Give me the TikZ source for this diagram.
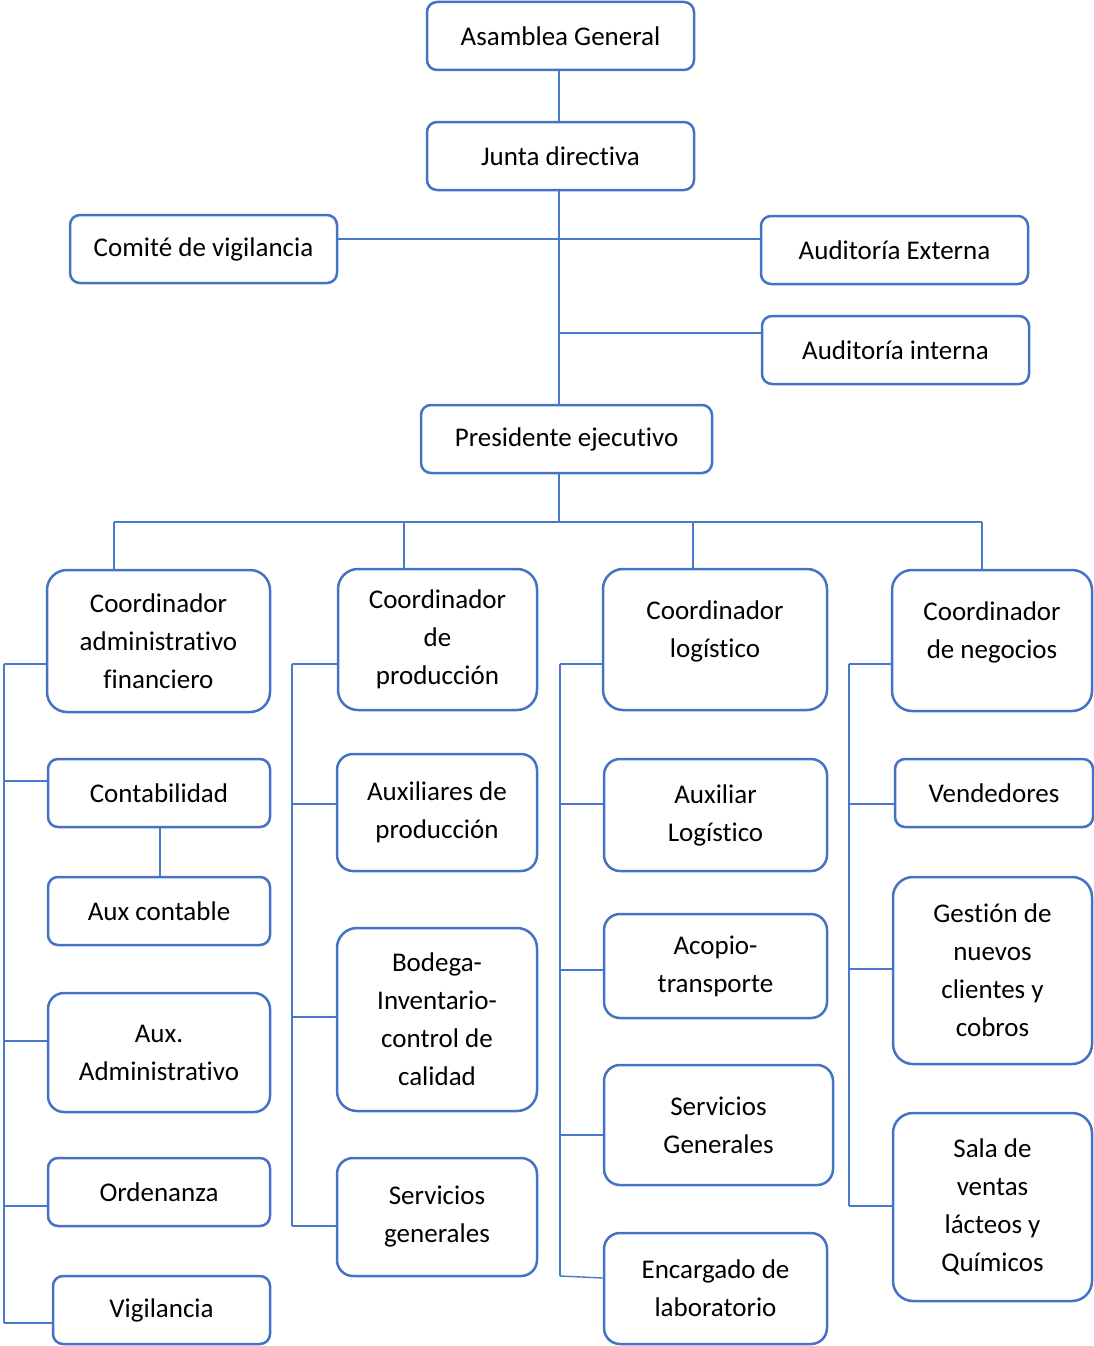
\documentclass[tikz,border=0pt]{standalone}
\usepackage{fontspec}
\setmainfont[Ligatures={NoCommon,NoContextual},RawFeature={-liga;-clig;-dlig}]{Carlito}
\usetikzlibrary{calc}
\definecolor{bord}{HTML}{4472C4}
\definecolor{lineblue}{HTML}{4A78CC}
\tikzset{
  box/.style={draw=bord, line width=2.5pt, rounded corners=10pt, fill=white, align=center,
    inner sep=0pt, font=\fontsize{27}{38}\selectfont},
  bigbox/.style={box, rounded corners=20pt},
  midbox/.style={box, rounded corners=16pt},
  conn/.style={draw=lineblue, line width=1.4pt},
  up/.style={text depth=21pt}
}
\begin{document}
\begin{tikzpicture}[x=1pt,y=-1pt]
\useasboundingbox (0,0) rectangle (1094,1346);
% top
\node[box, minimum width=267pt, minimum height=68pt] (ag) at (560.5,36) {Asamblea General};
\node[box, minimum width=267pt, minimum height=68pt] (jd) at (560.5,156) {Junta directiva};
\node[box, minimum width=267pt, minimum height=68pt] (cv) at (203.5,249) {Comité de vigilancia};
\node[box, minimum width=267pt, minimum height=68pt] (ae) at (894.5,250) {Auditoría Externa};
\node[box, minimum width=267pt, minimum height=68pt] (ai) at (895.5,350) {Auditoría interna};
\node[box, minimum width=291pt, minimum height=68pt] (pe) at (566.5,439) {Presidente ejecutivo};
% col 1
\node[bigbox, minimum width=223pt, minimum height=142pt] (c1) at (158.5,641) {Coordinador\\administrativo\\financiero};
\node[box, minimum width=222pt, minimum height=68pt] (ct) at (159,793) {Contabilidad};
\node[box, minimum width=222pt, minimum height=68pt] (ac) at (159,911) {Aux contable};
\node[midbox, minimum width=222pt, minimum height=119pt] (aa) at (159,1052.5) {Aux.\\Administrativo};
\node[box, minimum width=222pt, minimum height=68pt] (or) at (159,1192) {Ordenanza};
\node[box, minimum width=217pt, minimum height=68pt] (vi) at (161.5,1310) {Vigilancia};
% col 2
\node[bigbox, minimum width=199pt, minimum height=141pt] (c2) at (437.5,639.5) {Coordinador\\de\\producción};
\node[midbox, minimum width=200pt, minimum height=117pt] (ap) at (437,812.5) {Auxiliares de\\producción};
\node[bigbox, minimum width=200pt, minimum height=183pt] (bo) at (437,1019.5) {Bodega-\\Inventario-\\control de\\calidad};
\node[midbox, minimum width=200pt, minimum height=118pt] (sg) at (437,1217) {Servicios\\generales};
% col 3
\node[bigbox, up, minimum width=224pt, minimum height=141pt] (c3) at (715,639.5) {Coordinador\\logístico};
\node[midbox, minimum width=223pt, minimum height=112pt] (al) at (715.5,815) {Auxiliar\\Logístico};
\node[midbox, minimum width=223pt, minimum height=104pt] (at) at (715.5,966) {Acopio-\\transporte};
\node[midbox, minimum width=229pt, minimum height=120pt] (sG) at (718.5,1125) {Servicios\\Generales};
\node[midbox, minimum width=223pt, minimum height=111pt] (el) at (715.5,1288.5) {Encargado de\\laboratorio};
% col 4
\node[bigbox, up, minimum width=200pt, minimum height=141pt] (c4) at (992,640.5) {Coordinador\\de negocios};
\node[box, minimum width=198pt, minimum height=68pt] (ve) at (994,793) {Vendedores};
\node[bigbox, minimum width=199pt, minimum height=187pt] (gn) at (992.5,970.5) {Gestión de\\nuevos\\clientes y\\cobros};
\node[bigbox, minimum width=199pt, minimum height=188pt] (sv) at (992.5,1207) {Sala de\\ventas\\lácteos y\\Químicos};
% top connectors
\coordinate (tx) at (559,0);
\draw[conn] (ag.south -| tx) -- (jd.north -| tx);
\draw[conn] (jd.south -| tx) -- (pe.north -| tx);
\coordinate (hl) at (0,239);
\draw[conn] (cv.east |- hl) -- (ae.west |- hl);
\coordinate (aiw) at ($(ai.west)+(0,-17)$);
\draw[conn] (aiw) -- (aiw -| tx);
\coordinate (bus) at (0,522);
\draw[conn] (pe.south -| tx) -- (bus -| tx);
\coordinate (d1) at (114,522);
\coordinate (d2) at (404,522);
\coordinate (d3) at (693,522);
\coordinate (d4) at (982,522);
\draw[conn] (d1) -- (d4);
\draw[conn] (d1) -- (d1 |- c1.north);
\draw[conn] (d2) -- (d2 |- c2.north);
\draw[conn] (d3) -- (d3 |- c3.north);
\draw[conn] (d4) -- (d4 |- c4.north);
\coordinate (cx) at (160,0);
\draw[conn] (ct.south -| cx) -- (ac.north -| cx);
% col 1 trunk
\coordinate (k1a) at (4,664);
\coordinate (k1b) at (4,781);
\coordinate (k1c) at (4,1041);
\coordinate (k1d) at (4,1206);
\coordinate (k1e) at (4,1323);
\draw[conn] (k1a) -- (k1e);
\draw[conn] (k1a) -- (k1a -| c1.west);
\draw[conn] (k1b) -- (k1b -| ct.west);
\draw[conn] (k1c) -- (k1c -| aa.west);
\draw[conn] (k1d) -- (k1d -| or.west);
\draw[conn] (k1e) -- (k1e -| vi.west);
% col 2 trunk
\coordinate (k2a) at (292,664);
\coordinate (k2b) at (292,804);
\coordinate (k2c) at (292,1017);
\coordinate (k2d) at (292,1226);
\draw[conn] (k2a) -- (k2d);
\draw[conn] (k2a) -- (k2a -| c2.west);
\draw[conn] (k2b) -- (k2b -| ap.west);
\draw[conn] (k2c) -- (k2c -| bo.west);
\draw[conn] (k2d) -- (k2d -| sg.west);
% col 3 trunk
\coordinate (k3a) at (560,664);
\coordinate (k3b) at (560,804);
\coordinate (k3c) at (560,970);
\coordinate (k3d) at (560,1135);
\coordinate (k3e) at (560,1276);
\draw[conn] (k3a) -- (k3e);
\draw[conn] (k3a) -- (k3a -| c3.west);
\draw[conn] (k3b) -- (k3b -| al.west);
\draw[conn] (k3c) -- (k3c -| at.west);
\draw[conn] (k3d) -- (k3d -| sG.west);
\draw[conn] (k3e) -- ($(k3e -| el.west)+(0,2)$);
% col 4 trunk
\coordinate (k4a) at (849,664);
\coordinate (k4b) at (849,804);
\coordinate (k4c) at (849,969);
\coordinate (k4d) at (849,1206);
\draw[conn] (k4a) -- (k4d);
\draw[conn] (k4a) -- (k4a -| c4.west);
\draw[conn] (k4b) -- (k4b -| ve.west);
\draw[conn] (k4c) -- (k4c -| gn.west);
\draw[conn] (k4d) -- (k4d -| sv.west);
\end{tikzpicture}
\end{document}
